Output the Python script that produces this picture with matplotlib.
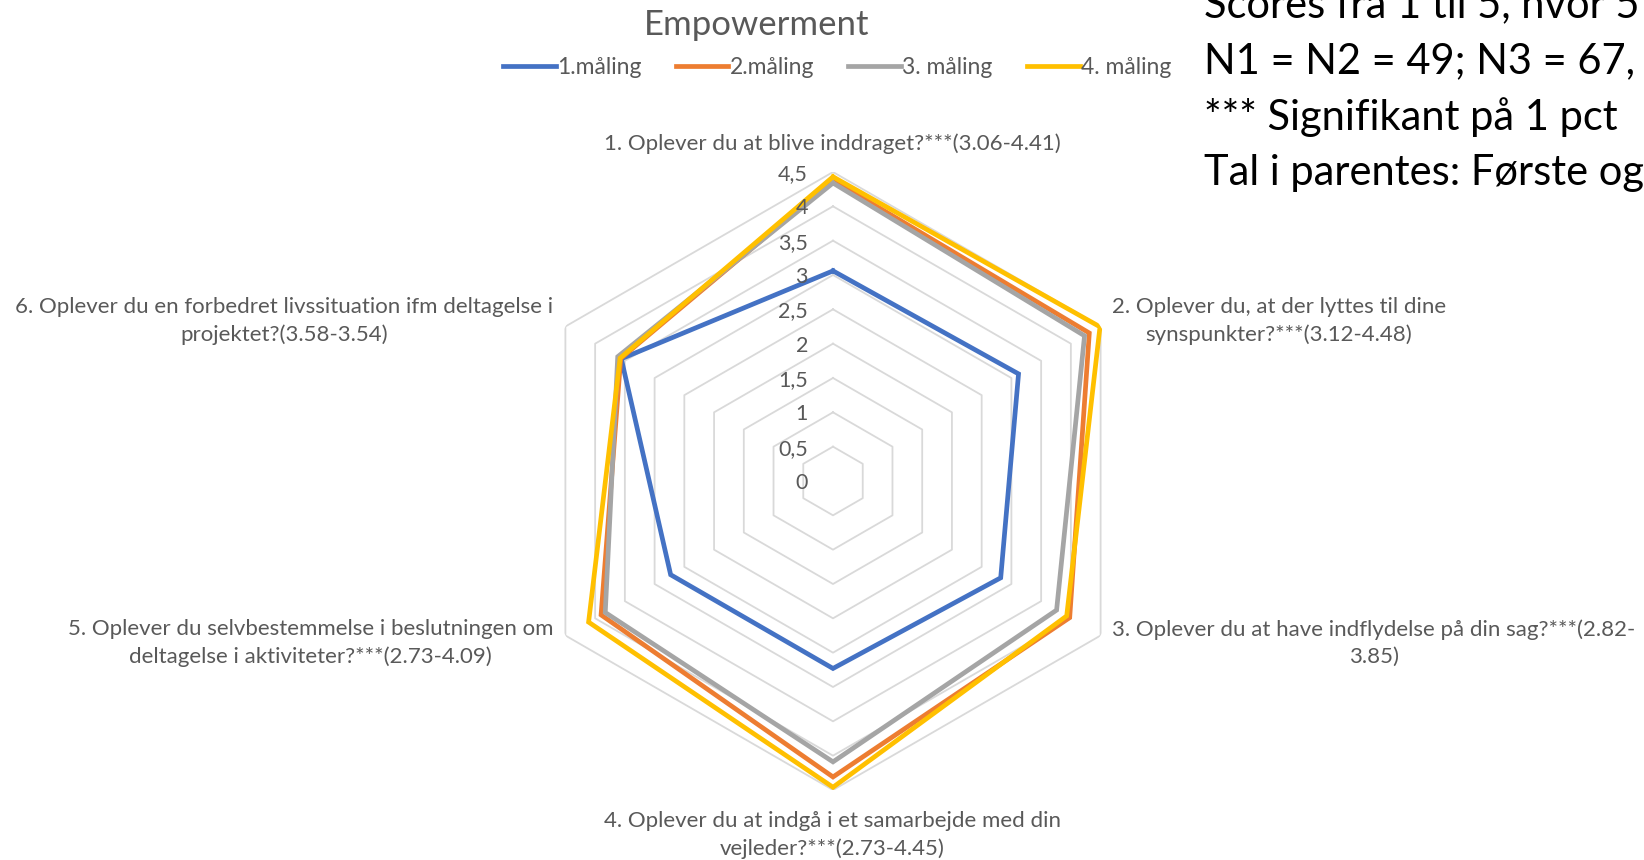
import numpy as np
import matplotlib
matplotlib.use("Agg")
import matplotlib.pyplot as plt

plt.rcParams['font.family'] = ['Lato', 'DejaVu Sans']

# data
questions = [
    "1. Oplever du at blive inddraget?***(3.06-4.41)",
    "2. Oplever du, at der lyttes til dine\nsynspunkter?***(3.12-4.48)",
    "3. Oplever du at have indflydelse på din sag?***(2.82-\n3.85)",
    "4. Oplever du at indgå i et samarbejde med din\nvejleder?***(2.73-4.45)",
    "5. Oplever du selvbestemmelse i beslutningen om\ndeltagelse i aktiviteter?***(2.73-4.09)",
    "6. Oplever du en forbedret livssituation ifm deltagelse i\nprojektet?(3.58-3.54)",
]
series_names = ["1.måling", "2.måling", "3. måling", "4. måling"]
maaling1 = [3.06, 3.12, 2.82, 2.73, 2.73, 3.56]
maaling2 = [4.38, 4.31, 3.98, 4.31, 3.90, 3.57]
maaling3 = [4.34, 4.23, 3.76, 4.09, 3.83, 3.62]
maaling4 = [4.43, 4.49, 3.93, 4.46, 4.11, 3.58]
colors = ["#4472C4", "#ED7D31", "#A5A5A5", "#FFC000"]
ticks = [0, 0.5, 1, 1.5, 2, 2.5, 3, 3.5, 4, 4.5]
tick_labels = ["0", "0,5", "1", "1,5", "2", "2,5", "3", "3,5", "4", "4,5"]
note_lines = [
    "Scores fra 1 til 5, hvor 5",
    "N1 = N2 = 49; N3 = 67,",
    "*** Signifikant på 1 pct",
    "Tal i parentes: Første og",
]

W, H = 1644, 860
fig = plt.figure(figsize=(W / 100, H / 100), dpi=100)


def px(x, y):
    return x / W, 1 - y / H


cx, cy, R = 833, 481, 309
ax = fig.add_axes([(cx - R) / W, (H - cy - R) / H, 2 * R / W, 2 * R / H], projection='polar')
ax.set_theta_offset(np.pi / 2)
ax.set_theta_direction(-1)
ax.set_ylim(0, 4.5)
ax.grid(False)
ax.set_xticks([])
ax.set_yticks([])
ax.spines['polar'].set_visible(False)
ax.patch.set_alpha(0)

n = len(questions)
theta = np.arange(n) * 2 * np.pi / n
theta_c = np.append(theta, theta[0])

# hexagon grid
for v in ticks[1:]:
    ax.plot(theta_c, [v] * (n + 1), color="#D9D9D9", lw=1.3, zorder=1)

for vals, c, name in zip([maaling1, maaling2, maaling3, maaling4], colors, series_names):
    ax.plot(theta_c, vals + vals[:1], color=c, lw=3.4, label=name, zorder=3,
            solid_joinstyle='miter')

for v, t in zip(ticks, tick_labels):
    ax.annotate(t, xy=(0, v), xytext=(-18, -1.5), textcoords='offset points',
                ha='right', va='center', fontsize=15.5, color="#595959", zorder=5)

txt = dict(fontsize=16, color="#595959", linespacing=1.45)
fig.text(*px(832, 144), questions[0], ha='center', va='center', **txt)
fig.text(*px(1112, 321), questions[1], ha='left', va='center', multialignment='center', **txt)
fig.text(*px(1112, 643), questions[2], ha='left', va='center', multialignment='center', **txt)
fig.text(*px(832, 835), questions[3], ha='center', va='center', **txt)
fig.text(*px(553, 643), questions[4], ha='right', va='center', multialignment='center', **txt)
fig.text(*px(553, 321), questions[5], ha='right', va='center', multialignment='center', **txt)

fig.text(*px(757, 25), "Empowerment", ha='center', va='center', fontsize=25, color="#595959")
fig.legend(loc='center', bbox_to_anchor=px(837, 68), ncol=4, frameon=False,
           fontsize=16.5, handlelength=2.3, handletextpad=0.05, columnspacing=1.5,
           labelcolor="#595959")

for i, line in enumerate(note_lines):
    fig.text(*px(1204, 5 + 56 * i), line, ha='left', va='center', fontsize=30, color="black")

fig.savefig("out.png", dpi=100)
